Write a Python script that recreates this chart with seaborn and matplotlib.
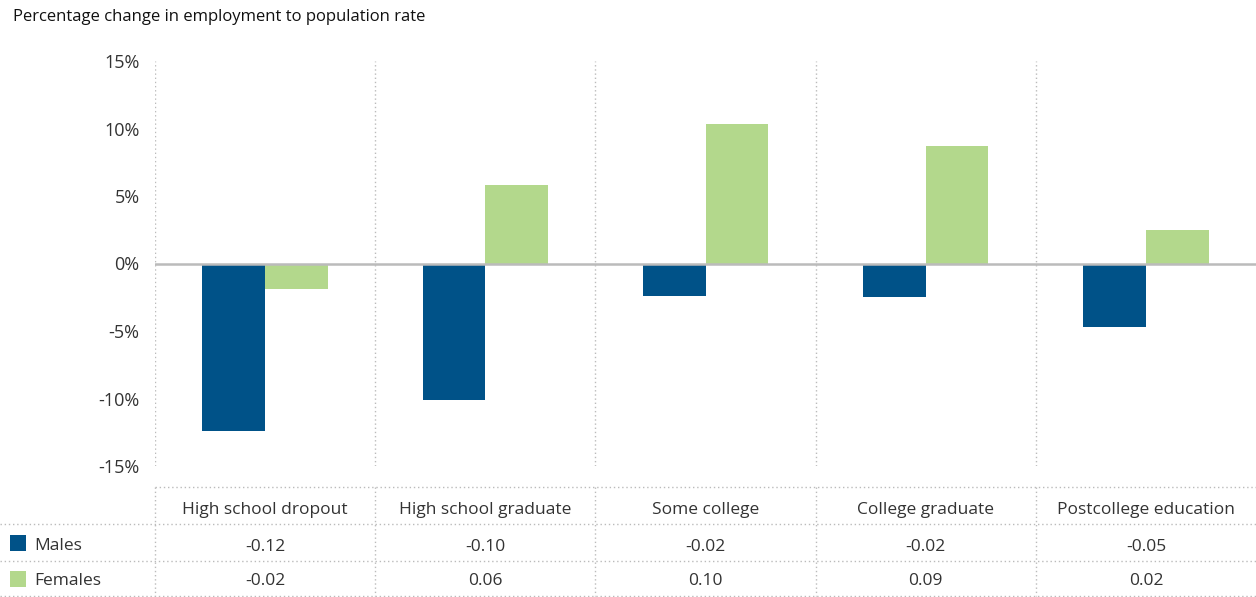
import pandas as pd
import matplotlib.pyplot as plt
import matplotlib.transforms as mtransforms
import seaborn as sns

# ------------------------------
# Data
# ------------------------------
categories = ["High school dropout", "High school graduate", "Some college",
              "College graduate", "Postcollege education"]
males = [-12.4, -10.1, -2.4, -2.5, -4.7]      # percent
females = [-1.9, 5.8, 10.3, 8.7, 2.5]         # percent
males_table = ["-0.12", "-0.10", "-0.02", "-0.02", "-0.05"]
females_table = ["-0.02", "0.06", "0.10", "0.09", "0.02"]
yticks = [-15, -10, -5, 0, 5, 10, 15]

male_color = "#005288"
female_color = "#B3D88C"
grid_color = "#BBBBBB"
text_color = "#333333"

df = pd.DataFrame({
    "category": categories * 2,
    "group": ["Males"] * len(categories) + ["Females"] * len(categories),
    "value": males + females,
})

sns.set_style("white")
plt.rcParams["font.family"] = ["Open Sans", "DejaVu Sans"]

W, H = 1256, 597
fig = plt.figure(figsize=(W / 100, H / 100), dpi=100)

# main bar axes, in pixel layout
left, right, top, bottom = 155, 1256, 61, 466
ax = fig.add_axes([left / W, 1 - bottom / H, (right - left) / W, (bottom - top) / H])

sns.barplot(data=df, x="category", y="value", hue="group",
            palette={"Males": male_color, "Females": female_color},
            width=0.57, saturation=1, linewidth=0, ax=ax, legend=False)

ax.set_xlim(-0.5, len(categories) - 0.5)
ax.set_ylim(-15, 15)
ax.set_yticks(yticks)
ax.set_yticklabels([f"{t}%" for t in yticks], fontsize=13, color=text_color)
ax.tick_params(axis="y", length=0, pad=11)
ax.set_xticks([])
ax.set_xlabel("")
ax.set_ylabel("")
for s in ax.spines.values():
    s.set_visible(False)

ax.axhline(0, color=grid_color, lw=1.8, zorder=3)
for i in range(len(categories)):
    ax.axvline(i - 0.5, color=grid_color, lw=1, ls=(0, (1, 2)), zorder=0)

fig.text(13 / W, 1 - 17 / H, "Percentage change in employment to population rate",
         fontsize=12, color="#111111", va="center", ha="left")

# ------------------------------
# Data table below chart
# ------------------------------
t_top, t_bot = 487, 596
tax = fig.add_axes([left / W, 1 - t_bot / H, (right - left) / W, (t_bot - t_top) / H])
tax.set_xlim(-0.5, len(categories) - 0.5)
tax.set_ylim(3, 0)
tax.axis("off")

trans = mtransforms.blended_transform_factory(fig.transFigure, tax.transData)
tax.plot([left / W, 1], [0, 0], transform=trans, color=grid_color, lw=1,
         ls=(0, (1, 2)), clip_on=False)
for yy in [1.03, 2.05, 3]:
    tax.plot([0, 1], [yy, yy], transform=trans, color=grid_color, lw=1,
             ls=(0, (1, 2)), clip_on=False)
for i in range(len(categories)):
    tax.plot([i - 0.5, i - 0.5], [0, 3], color=grid_color, lw=1,
             ls=(0, (1, 2)), clip_on=False)

for i, cat in enumerate(categories):
    tax.text(i, 0.62, cat, ha="center", va="center", fontsize=12.5, color=text_color)
    tax.text(i, 1.64, males_table[i], ha="center", va="center", fontsize=12.5, color=text_color)
    tax.text(i, 2.6, females_table[i], ha="center", va="center", fontsize=12.5, color=text_color)

for row, name, col in [(1.55, "Males", male_color), (2.52, "Females", female_color)]:
    tax.scatter([18 / W], [row], transform=trans, marker="s", s=120, color=col,
                linewidths=0, clip_on=False)
    tax.text(34 / W, row + 0.08, name, transform=trans, ha="left", va="center",
             fontsize=12.5, color=text_color)

fig.savefig("out.png", dpi=100)
